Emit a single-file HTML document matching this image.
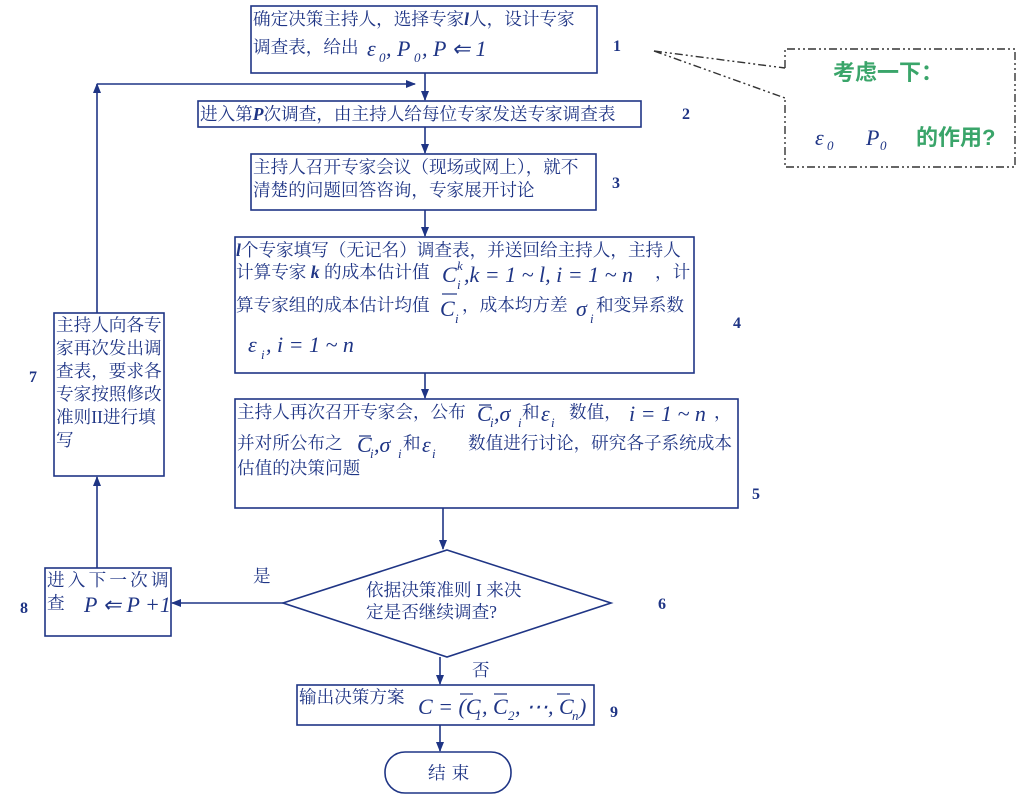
<!DOCTYPE html>
<html><head><meta charset="utf-8"><style>
html,body{margin:0;padding:0;background:#fff;}
svg{display:block;}
text{font-family:"Liberation Serif","Noto Serif CJK SC",serif;fill:#1f3585;}
.t{font-size:17.6px;}
.m{font-family:"Liberation Serif",serif;font-style:italic;font-size:22px;}
.s{font-family:"Liberation Serif",serif;font-style:italic;font-size:13px;}
.n{font-weight:bold;font-size:16px;}
.g{font-family:"Liberation Sans","Noto Sans CJK SC",sans-serif;fill:#3aa56a;font-weight:bold;font-size:22px;}
</style></head><body>
<svg width="1025" height="796" viewBox="0 0 1025 796" xmlns="http://www.w3.org/2000/svg">
<defs>
<marker id="a" markerWidth="10" markerHeight="10" refX="9" refY="5" orient="auto" markerUnits="userSpaceOnUse">
<path d="M0,1 L10,5 L0,9 Z" fill="#1f3585"/></marker>
</defs>
<g stroke="#1f3585" stroke-width="1.6" fill="none">
<rect x="251" y="6" width="346" height="67"/>
<rect x="198" y="101" width="443" height="26"/>
<rect x="251" y="154" width="345" height="56"/>
<rect x="235" y="237" width="459" height="136"/>
<rect x="235" y="399" width="503" height="109"/>
<polygon points="447,550 611,603 447,657 283,603"/>
<rect x="45" y="568" width="126" height="68"/>
<rect x="54" y="313" width="110" height="163"/>
<rect x="297" y="685" width="297" height="40"/>
<rect x="385" y="752" width="126" height="41" rx="20"/>
<line x1="425" y1="73" x2="425" y2="100" marker-end="url(#a)"/>
<line x1="425" y1="127" x2="425" y2="153" marker-end="url(#a)"/>
<line x1="425" y1="210" x2="425" y2="236" marker-end="url(#a)"/>
<line x1="425" y1="373" x2="425" y2="398" marker-end="url(#a)"/>
<line x1="443" y1="508" x2="443" y2="549" marker-end="url(#a)"/>
<line x1="283" y1="603" x2="172" y2="603" marker-end="url(#a)"/>
<line x1="97" y1="568" x2="97" y2="477" marker-end="url(#a)"/>
<line x1="97" y1="313" x2="97" y2="84" marker-end="url(#a)"/>
<polyline points="97,84 415,84" marker-end="url(#a)"/>
<line x1="440" y1="657" x2="440" y2="684" marker-end="url(#a)"/>
<line x1="440" y1="725" x2="440" y2="751" marker-end="url(#a)"/>
</g>
<g stroke="#333" stroke-width="1.4" fill="none" stroke-dasharray="8,3,2,3,2,3">
<polyline points="785,68 785,49 1015,49 1015,167 785,167 785,98"/>
<line x1="654" y1="51" x2="785" y2="68"/>
<line x1="654" y1="51" x2="785" y2="98"/>
</g>
<text class="t" x="253" y="25">确定决策主持人，选择专家<tspan font-style="italic" font-weight="bold">l</tspan>人，设计专家</text>
<text class="t" x="253" y="53">调查表，给出</text>
<text class="m" x="367" y="56" font-size="24">ε</text><text class="s" x="379" y="62" font-size="15">0</text>
<text class="m" x="386" y="56" font-size="24">, P</text><text class="s" x="414" y="62" font-size="15">0</text>
<text class="m" x="422" y="56" font-size="24">,  P ⇐ 1</text>
<text class="t" x="200" y="120">进入第<tspan font-style="italic" font-weight="bold">P</tspan>次调查，由主持人给每位专家发送专家调查表</text>
<text class="t" x="253" y="173">主持人召开专家会议（现场或网上），就不</text>
<text class="t" x="253" y="196">清楚的问题回答咨询，专家展开讨论</text>
<text class="t" x="236" y="256" font-size="17.4"><tspan font-style="italic" font-weight="bold">l</tspan>个专家填写（无记名）调查表，并送回给主持人，主持人</text>
<text class="t" x="236" y="278">计算专家 <tspan font-style="italic" font-weight="bold">k</tspan> 的成本估计值</text>
<text class="m" x="442" y="282" font-size="24">C</text><text class="s" x="457" y="289">i</text><text class="s" x="457" y="270">k</text>
<text class="m" x="464" y="282" font-size="24">,k = 1 ~ l, i = 1 ~ n</text>
<text class="t" x="655" y="278">，计</text>
<text class="t" x="236" y="311">算专家组的成本估计均值</text>
<text class="m" x="440" y="316" font-size="24">C</text><text class="s" x="455" y="323">i</text>
<line x1="442" y1="294" x2="457" y2="294" stroke="#1f3585" stroke-width="1.2"/>
<text class="t" x="462" y="311">，成本均方差</text>
<text class="m" x="576" y="316" font-size="24">σ</text><text class="s" x="590" y="323">i</text>
<text class="t" x="596" y="311">和变异系数</text>
<text class="m" x="248" y="352" font-size="26">ε</text><text class="s" x="261" y="359" font-size="15">i</text>
<text class="m" x="266" y="352" font-size="26">, i = 1 ~ n</text>
<text class="t" x="237" y="418">主持人再次召开专家会，公布</text>
<text class="m" x="477" y="421" font-size="21">C</text><text class="s" x="490" y="427">i</text>
<text class="m" x="494" y="421" font-size="21">,σ</text><text class="s" x="518" y="427">i</text>
<line x1="479" y1="405" x2="491" y2="405" stroke="#1f3585" stroke-width="1.2"/>
<text class="t" x="522" y="418">和</text>
<text class="m" x="541" y="421" font-size="21">ε</text><text class="s" x="551" y="427">i</text>
<text class="t" x="569" y="418">数值，</text>
<text class="m" x="629" y="421" font-size="22">i = 1 ~ n</text>
<text class="t" x="714" y="418">，</text>
<text class="t" x="237" y="449">并对所公布之</text>
<text class="m" x="357" y="452" font-size="21">C</text><text class="s" x="370" y="458">i</text>
<text class="m" x="374" y="452" font-size="21">,σ</text><text class="s" x="398" y="458">i</text>
<line x1="359" y1="436" x2="371" y2="436" stroke="#1f3585" stroke-width="1.2"/>
<text class="t" x="403" y="449">和</text>
<text class="m" x="422" y="452" font-size="21">ε</text><text class="s" x="432" y="458">i</text>
<text class="t" x="468" y="449" font-size="17.9">数值进行讨论，研究各子系统成本</text>
<text class="t" x="237" y="474">估值的决策问题</text>
<text class="t" x="56" y="331">主持人向各专</text>
<text class="t" x="56" y="354">家再次发出调</text>
<text class="t" x="56" y="377">查表，要求各</text>
<text class="t" x="56" y="400">专家按照修改</text>
<text class="t" x="56" y="423">准则II进行填</text>
<text class="t" x="56" y="446">写</text>
<text class="t" x="47" y="586" letter-spacing="3.2">进入下一次调</text>
<text class="t" x="47" y="609">查</text>
<text class="m" x="84" y="612" font-size="20">P ⇐ P +1</text>
<text class="t" x="366" y="596">依据决策准则 I 来决</text>
<text class="t" x="366" y="618">定是否继续调查?</text>
<text class="t" x="253" y="582">是</text>
<text class="t" x="472" y="676">否</text>
<text class="t" x="299" y="703">输出决策方案</text>
<text class="m" x="418" y="714" font-size="22">C = (C</text><text class="s" x="475" y="720">1</text>
<text class="m" x="482" y="714" font-size="22">, C</text><text class="s" x="508" y="720">2</text>
<text class="m" x="515" y="714" font-size="22">, ⋯, C</text><text class="s" x="572" y="720">n</text>
<text class="m" x="579" y="714" font-size="22">)</text>
<line x1="460" y1="694" x2="473" y2="694" stroke="#1f3585" stroke-width="1.2"/>
<line x1="494" y1="694" x2="507" y2="694" stroke="#1f3585" stroke-width="1.2"/>
<line x1="557" y1="694" x2="570" y2="694" stroke="#1f3585" stroke-width="1.2"/>
<text class="t" x="428" y="779" letter-spacing="6">结束</text>
<text class="n" x="613" y="51">1</text>
<text class="n" x="682" y="119">2</text>
<text class="n" x="612" y="188">3</text>
<text class="n" x="733" y="328">4</text>
<text class="n" x="752" y="499">5</text>
<text class="n" x="658" y="609">6</text>
<text class="n" x="29" y="382">7</text>
<text class="n" x="20" y="613">8</text>
<text class="n" x="610" y="717">9</text>
<text class="g" x="833" y="80">考虑一下：</text>
<text class="m" x="815" y="145">ε</text><text class="s" x="827" y="150">0</text>
<text class="m" x="866" y="145">P</text><text class="s" x="880" y="150">0</text>
<text class="g" x="916" y="145">的作用?</text>
</svg>
</body></html>
